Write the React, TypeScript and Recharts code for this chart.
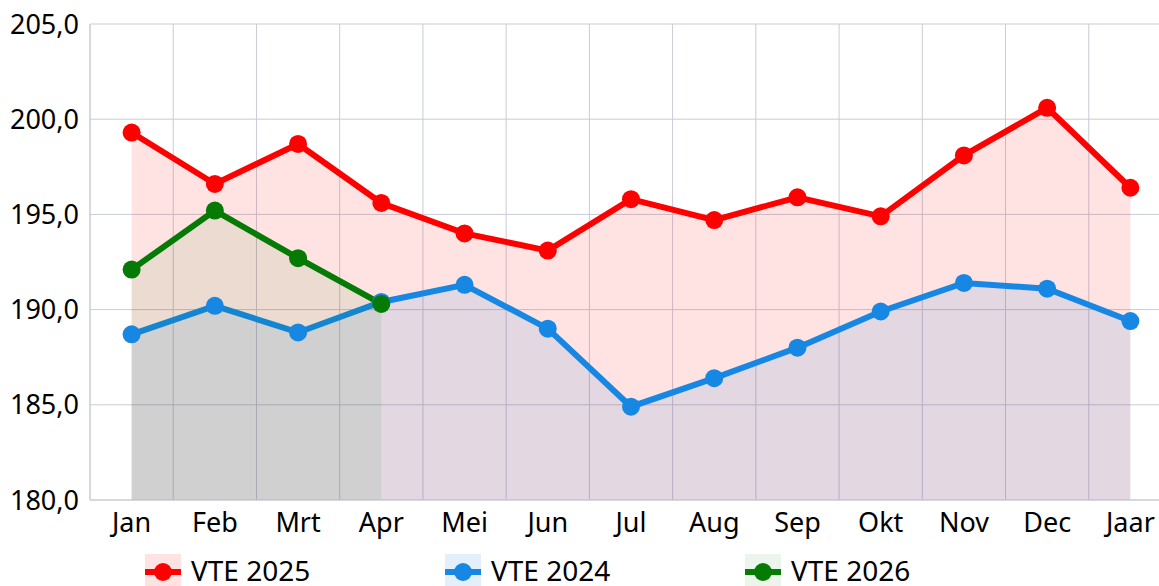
import React from "react";
import { ComposedChart, Area, XAxis, YAxis, CartesianGrid, Legend } from "recharts";

const months = ["Jan", "Feb", "Mrt", "Apr", "Mei", "Jun", "Jul", "Aug", "Sep", "Okt", "Nov", "Dec", "Jaar"];
const vte2025 = [199.3, 196.6, 198.7, 195.6, 194.0, 193.1, 195.8, 194.7, 195.9, 194.9, 198.1, 200.6, 196.4];
const vte2024 = [188.7, 190.2, 188.8, 190.4, 191.3, 189.0, 184.9, 186.4, 188.0, 189.9, 191.4, 191.1, 189.4];
const vte2026 = [192.1, 195.2, 192.7, 190.3];
const yTicks = [180, 185, 190, 195, 200, 205];

const series = [
    { key: "vte2025", name: "VTE 2025", color: "#ff0000", fillOpacity: 0.11 },
    { key: "vte2024", name: "VTE 2024", color: "#1687e2", fillOpacity: 0.12 },
    { key: "vte2026", name: "VTE 2026", color: "#057a05", fillOpacity: 0.08 },
];

const data = months.map((m, i) => ({
    month: m,
    vte2025: vte2025[i],
    vte2024: vte2024[i],
    vte2026: i < vte2026.length ? vte2026[i] : null,
}));

const FONT = "'Noto Sans', sans-serif";
const GRID = "#c8ccd8";
const CHART_W = 1172;
const Y_W = 90;
const HALF_BAND = (CHART_W - Y_W) / months.length / 2;

const fmt = (v: number) => v.toFixed(1).replace(".", ",");

function LegendContent() {
    return (
        <div style={{ display: "flex", paddingLeft: 145, fontFamily: FONT, fontSize: 28, color: "#000" }}>
            {series.map((s) => (
                <div key={s.key} style={{ width: 300, display: "flex", alignItems: "center", height: 32 }}>
                    <svg width={36} height={32} style={{ marginRight: 10, flex: "none" }}>
                        <rect x={0} y={0} width={36} height={32} fill={s.color} fillOpacity={s.fillOpacity} />
                        <line x1={0} y1={18} x2={36} y2={18} stroke={s.color} strokeWidth={6} />
                        <circle cx={18} cy={18} r={9} fill={s.color} />
                    </svg>
                    <span style={{ lineHeight: "30px", whiteSpace: "nowrap" }}>{s.name}</span>
                </div>
            ))}
        </div>
    );
}

export default function App() {
    return (
        <div style={{ position: "absolute", left: 0, top: 0, width: 1159, height: 586, overflow: "hidden", background: "#fff" }}>
            <ComposedChart
                width={CHART_W}
                height={586}
                data={data}
                margin={{ top: 24, right: 0, left: 0, bottom: 4 }}
            >
                <CartesianGrid
                    stroke={GRID}
                    strokeWidth={1}
                    verticalCoordinatesGenerator={({ offset }: any) =>
                        months.map((_, i) => offset.left + (i * offset.width) / months.length).concat(offset.left + offset.width)
                    }
                />
                <XAxis
                    dataKey="month"
                    axisLine={{ stroke: GRID }}
                    tickLine={false}
                    tickSize={0}
                    height={50}
                    tickMargin={13}
                    padding={{ left: HALF_BAND, right: HALF_BAND }}
                    tick={{ fill: "#000", fontSize: 27, fontFamily: FONT }}
                    interval={0}
                />
                <YAxis
                    width={Y_W}
                    domain={[180, 205]}
                    ticks={yTicks}
                    tickFormatter={fmt}
                    axisLine={{ stroke: GRID }}
                    tickLine={false}
                    tickSize={0}
                    tickMargin={11}
                    tick={{ fill: "#000", fontSize: 27, fontFamily: FONT }}
                    allowDataOverflow
                />
                <Legend
                    verticalAlign="bottom"
                    align="left"
                    height={32}
                    wrapperStyle={{ top: 554, left: 0, bottom: "auto", width: 1100, height: 32 }}
                    content={<LegendContent />}
                />
                {series.map((s) => (
                    <Area
                        key={s.key}
                        type="linear"
                        dataKey={s.key}
                        name={s.name}
                        stroke={s.color}
                        strokeWidth={6}
                        fill={s.color}
                        fillOpacity={s.fillOpacity}
                        dot={{ r: 9, fill: s.color, stroke: "none", fillOpacity: 1 }}
                        activeDot={false}
                        isAnimationActive={false}
                    />
                ))}
            </ComposedChart>
        </div>
    );
}
